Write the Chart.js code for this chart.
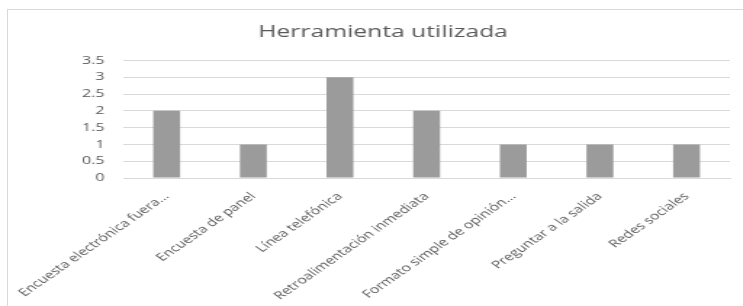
<!DOCTYPE html>
<html>
<head>
<meta charset="utf-8">
<script src="https://cdn.jsdelivr.net/npm/chart.js@4/dist/chart.umd.min.js"></script>
<style>
  html, body { margin: 0; padding: 0; background: #fff; overflow: hidden; }
  #frame {
    position: absolute; left: 7px; top: 9px; width: 760px; height: 320px;
    border-left: 1px solid #d9d9d9; border-top: 1px solid #d9d9d9;
  }
  /* the reference is a horizontally stretched screenshot, so the chart is drawn narrow and stretched */
  #wrap {
    position: absolute; left: 0; top: 0; width: 512px; height: 306px;
    transform: scaleX(1.451); transform-origin: 0 0;
  }
</style>
</head>
<body>
<div id="frame"></div>
<div id="wrap"><canvas id="chart"></canvas></div>
<script>
const categories = [
    'Encuesta electrónica fuera...',
    'Encuesta de panel',
    'Línea telefónica',
    'Retroalimentación inmediata',
    'Formato simple de opinión...',
    'Preguntar a la salida',
    'Redes sociales'
];
const values = [2, 1, 3, 2, 1, 1, 1];
const yTicks = ['0', '0.5', '1', '1.5', '2', '2.5', '3', '3.5'];

const textColor = '#595959';

const ctx = document.getElementById('chart').getContext('2d');
const chart = new Chart(ctx, {
    type: 'bar',
    data: {
        labels: categories,
        datasets: [{
            label: 'Herramienta utilizada',
            data: values,
            backgroundColor: '#9b9b9b',
            barPercentage: 0.62,
            categoryPercentage: 0.5
        }]
    },
    options: {
        responsive: true,
        maintainAspectRatio: false,
        animation: false,
        layout: { padding: { left: 25, right: 9, top: 0, bottom: 0 } },
        plugins: {
            legend: { display: false },
            tooltip: { enabled: false },
            title: {
                display: true,
                text: 'Herramienta utilizada',
                color: textColor,
                font: { family: 'Open Sans', size: 17, weight: 'normal' },
                padding: { top: 22, bottom: 18 }
            }
        },
        scales: {
            x: {
                grid: { display: false },
                border: { display: true, color: '#d9d9d9' },
                ticks: {
                    color: textColor,
                    font: { family: 'Open Sans', size: 10.8 },
                    padding: 4,
                    minRotation: 45,
                    maxRotation: 45,
                    autoSkip: false
                },
                afterFit: function (axis) { axis.height = 128; }
            },
            y: {
                min: 0,
                max: 3.5,
                grid: { color: '#d9d9d9', drawTicks: false },
                border: { display: false },
                ticks: {
                    stepSize: 0.5,
                    color: textColor,
                    padding: 13,
                    font: { family: 'Open Sans', size: 11 },
                    callback: function (v, i) { return yTicks[i]; }
                },
                afterFit: function (axis) { axis.width = 60; }
            }
        }
    }
});
</script>
</body>
</html>
